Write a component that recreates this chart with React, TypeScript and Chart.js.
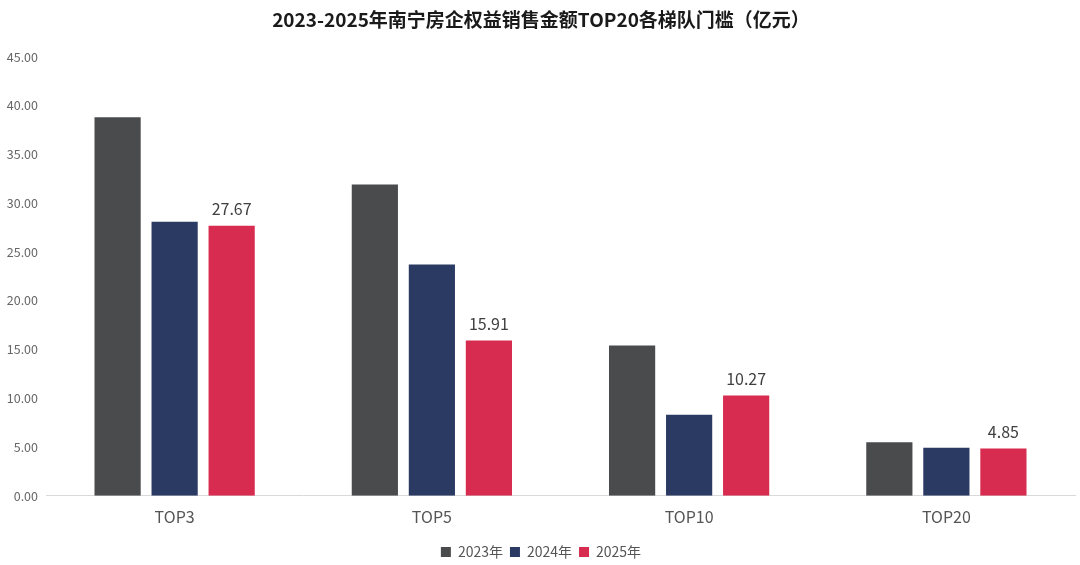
import React, { useEffect, useRef } from "react";
import { Chart, registerables } from "chart.js";

Chart.register(...registerables);

const categories = ["TOP3", "TOP5", "TOP10", "TOP20"];
const seriesNames = ["2023年", "2024年", "2025年"];
const values2023 = [38.8, 31.9, 15.4, 5.5];
const values2024 = [28.1, 23.7, 8.3, 4.92];
const values2025 = [27.67, 15.91, 10.27, 4.85];
const colors = ["#4a4b4d", "#2b3a63", "#d72b4f"];
const title = "2023-2025年南宁房企权益销售金额TOP20各梯队门槛（亿元）";
const FONT = "'Noto Sans CJK SC', 'Noto Sans', sans-serif";

const labelPlugin = {
  id: "lastSeriesLabels",
  afterDatasetsDraw(chart: any) {
    const ctx = chart.ctx;
    const idx = 2;
    const meta = chart.getDatasetMeta(idx);
    ctx.save();
    ctx.font = `16px ${FONT}`;
    ctx.fillStyle = "#404040";
    ctx.textAlign = "center";
    ctx.textBaseline = "bottom";
    meta.data.forEach((bar: any, i: number) => {
      const v = chart.data.datasets[idx].data[i] as number;
      ctx.fillText(v.toFixed(2), bar.x, bar.y - 9);
    });
    ctx.restore();
  },
};

export default function App() {
  const ref = useRef<HTMLCanvasElement>(null);
  useEffect(() => {
    document.body.style.margin = "0";
    const chart = new Chart(ref.current!, {
      type: "bar",
      data: {
        labels: categories,
        datasets: [values2023, values2024, values2025].map((d, i) => ({
          label: seriesNames[i],
          data: d,
          backgroundColor: colors[i],
          categoryPercentage: 0.665,
          barPercentage: 0.81,
        })),
      },
      options: {
        animation: false,
        responsive: false,
        maintainAspectRatio: false,
        layout: { padding: { left: 7, right: 5, top: 0, bottom: -4 } },
        plugins: {
          title: {
            display: true,
            text: title,
            color: "#1a1a1a",
            font: { family: FONT, size: 19, weight: "bold" },
            padding: { top: 8, bottom: 26 },
          },
          legend: {
            position: "bottom",
            labels: {
              boxWidth: 10,
              boxHeight: 10,
              color: "#555555",
              font: { family: FONT, size: 14 },
              padding: 7,
            },
          },
          tooltip: { enabled: false },
        },
        scales: {
          x: {
            grid: { display: false },
            border: { color: "#d9d9d9" },
            ticks: { color: "#555555", font: { family: FONT, size: 16 }, padding: 4 },
            afterFit: (s: any) => {
              s.height += 7;
            },
          },
          y: {
            min: 0,
            max: 45,
            grid: { display: false, drawTicks: false },
            border: { display: false },
            afterFit: (s: any) => {
              s.width = 39;
            },
            ticks: {
              stepSize: 5,
              color: "#666666",
              font: { family: FONT, size: 12.5 },
              padding: 8,
              callback: (v: any) => Number(v).toFixed(2),
            },
          },
        },
      },
      plugins: [labelPlugin],
    });
    return () => chart.destroy();
  }, []);
  return (
    <div style={{ width: 1080, height: 565, background: "#fff" }}>
      <canvas ref={ref} width={1080} height={565} style={{ width: 1080, height: 565 }} />
    </div>
  );
}
